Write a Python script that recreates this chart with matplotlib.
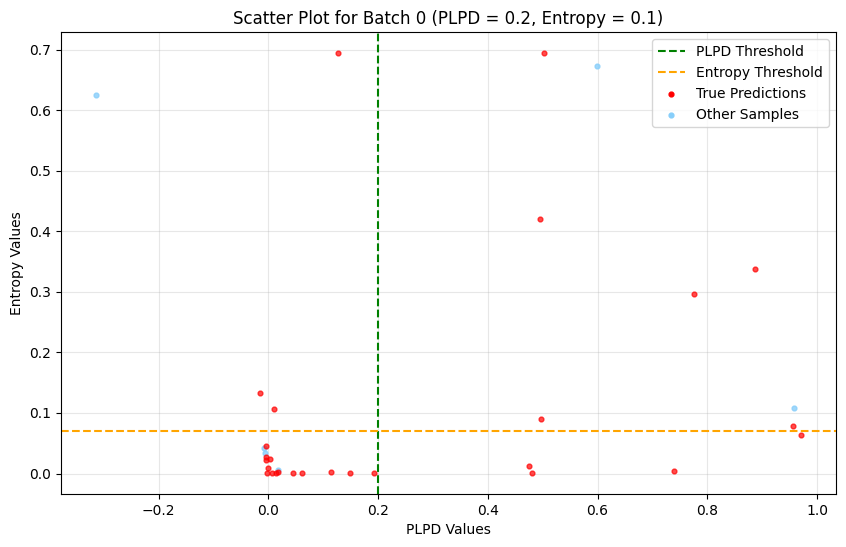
import matplotlib
matplotlib.use("Agg")
import matplotlib.pyplot as plt
import numpy as np

# thresholds
plpd_thr = 0.2
entropy_thr = 0.07

# samples that were predicted correctly
true_plpd = [0.127, 0.503, 0.495, 0.776, 0.886, 0.956, 0.970, 0.740,
             0.496, 0.475, 0.481,
             -0.015, 0.010, -0.005, -0.004, -0.004, 0.003, -0.001, -0.002,
             0.007, 0.014, 0.018, 0.044, 0.062, 0.114, 0.148, 0.193]
true_entropy = [0.694, 0.694, 0.420, 0.296, 0.337, 0.079, 0.063, 0.005,
                0.090, 0.012, 0.001,
                0.133, 0.106, 0.045, 0.027, 0.023, 0.024, 0.010, 0.001,
                0.001, 0.001, 0.002, 0.001, 0.001, 0.003, 0.001, 0.001]

# everything else
other_plpd = [-0.314, 0.598, 0.958, -0.008, -0.007, 0.018]
other_entropy = [0.625, 0.673, 0.109, 0.042, 0.034, 0.006]

fig = plt.figure(figsize=(8.46, 5.47), dpi=100)
ax = fig.add_axes([0.072, 0.097, 0.916, 0.844])

ax.axvline(plpd_thr, color='green', linestyle='--', label='PLPD Threshold')
ax.axhline(entropy_thr, color='orange', linestyle='--', label='Entropy Threshold')
ax.scatter(other_plpd, other_entropy, color='lightskyblue', s=12, alpha=0.8,
           label='Other Samples', zorder=2)
ax.scatter(true_plpd, true_entropy, color='red', s=12, alpha=0.7,
           label='True Predictions', zorder=2)

ax.set_title('Scatter Plot for Batch 0 (PLPD = 0.2, Entropy = 0.1)')
ax.set_xlabel('PLPD Values')
ax.set_ylabel('Entropy Values')
ax.grid(True, alpha=0.3)

h, l = ax.get_legend_handles_labels()
order = [0, 1, 3, 2]
leg = ax.legend([h[i] for i in order], [l[i] for i in order], loc='upper right')
for lh in leg.legend_handles[2:]:
    lh.set_alpha(1)

fig.savefig('out.png', dpi=100)
